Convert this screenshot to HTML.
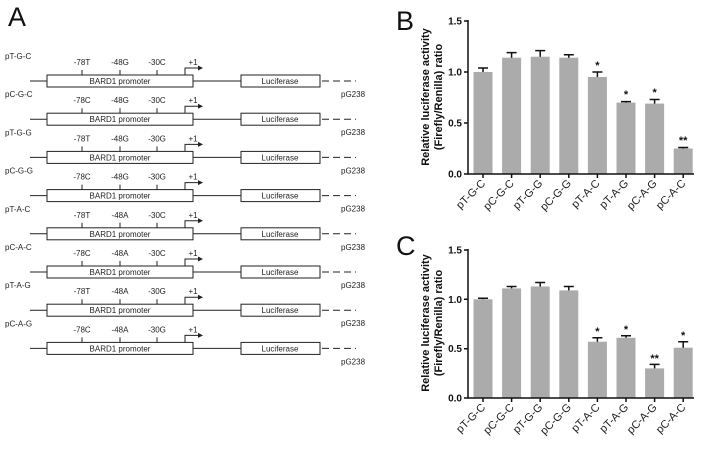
<!DOCTYPE html>
<html><head><meta charset="utf-8"><style>
body{margin:0;background:#fff}
svg{display:block;font-family:"Liberation Sans",Arial,sans-serif}
.s{font-size:8px;fill:#222}
.b{font-weight:bold;font-size:10px;fill:#111}
</style></head><body>
<svg width="702" height="450" viewBox="0 0 702 450">
<defs>
<g id="row">
<line x1="30" y1="0" x2="47" y2="0" stroke="#222" stroke-width="1"/>
<rect x="47" y="-6" width="146" height="12" fill="#fff" stroke="#222" stroke-width="1"/>
<line x1="193" y1="0" x2="241" y2="0" stroke="#222" stroke-width="1"/>
<rect x="241" y="-6" width="79" height="12" fill="#fff" stroke="#222" stroke-width="1"/>
<line x1="322" y1="0" x2="356" y2="0" stroke="#222" stroke-width="1" stroke-dasharray="7,4"/>
<line x1="82" y1="-11" x2="82" y2="-6" stroke="#222"/>
<line x1="120" y1="-11" x2="120" y2="-6" stroke="#222"/>
<line x1="157" y1="-11" x2="157" y2="-6" stroke="#222"/>
<polyline points="185,-6 185,-13 199,-13" fill="none" stroke="#222"/>
<polygon points="203,-13 198,-15.5 198,-10.5" fill="#222"/>
<text x="120" y="3" text-anchor="middle" class="s">BARD1 promoter</text>
<text x="280" y="3" text-anchor="middle" class="s">Luciferase</text>
<text x="193" y="-16" text-anchor="middle" class="s">+1</text>
<text x="341" y="16" class="s">pG238</text>
</g>
</defs>
<text x="8" y="26" font-size="27" fill="#111">A</text>

<g transform="translate(0,81)"><use href="#row"/><text x="5" y="-22" class="s">pT-G-C</text><text x="82" y="-16" text-anchor="middle" class="s">-78T</text><text x="120" y="-16" text-anchor="middle" class="s">-48G</text><text x="157" y="-16" text-anchor="middle" class="s">-30C</text></g>
<g transform="translate(0,119.2)"><use href="#row"/><text x="5" y="-22" class="s">pC-G-C</text><text x="82" y="-16" text-anchor="middle" class="s">-78C</text><text x="120" y="-16" text-anchor="middle" class="s">-48G</text><text x="157" y="-16" text-anchor="middle" class="s">-30C</text></g>
<g transform="translate(0,157.4)"><use href="#row"/><text x="5" y="-22" class="s">pT-G-G</text><text x="82" y="-16" text-anchor="middle" class="s">-78T</text><text x="120" y="-16" text-anchor="middle" class="s">-48G</text><text x="157" y="-16" text-anchor="middle" class="s">-30G</text></g>
<g transform="translate(0,195.6)"><use href="#row"/><text x="5" y="-22" class="s">pC-G-G</text><text x="82" y="-16" text-anchor="middle" class="s">-78C</text><text x="120" y="-16" text-anchor="middle" class="s">-48G</text><text x="157" y="-16" text-anchor="middle" class="s">-30G</text></g>
<g transform="translate(0,233.8)"><use href="#row"/><text x="5" y="-22" class="s">pT-A-C</text><text x="82" y="-16" text-anchor="middle" class="s">-78T</text><text x="120" y="-16" text-anchor="middle" class="s">-48A</text><text x="157" y="-16" text-anchor="middle" class="s">-30C</text></g>
<g transform="translate(0,272)"><use href="#row"/><text x="5" y="-22" class="s">pC-A-C</text><text x="82" y="-16" text-anchor="middle" class="s">-78C</text><text x="120" y="-16" text-anchor="middle" class="s">-48A</text><text x="157" y="-16" text-anchor="middle" class="s">-30C</text></g>
<g transform="translate(0,310.2)"><use href="#row"/><text x="5" y="-22" class="s">pT-A-G</text><text x="82" y="-16" text-anchor="middle" class="s">-78T</text><text x="120" y="-16" text-anchor="middle" class="s">-48A</text><text x="157" y="-16" text-anchor="middle" class="s">-30G</text></g>
<g transform="translate(0,348.4)"><use href="#row"/><text x="5" y="-22" class="s">pC-A-G</text><text x="82" y="-16" text-anchor="middle" class="s">-78C</text><text x="120" y="-16" text-anchor="middle" class="s">-48A</text><text x="157" y="-16" text-anchor="middle" class="s">-30G</text></g>

<!-- Panel B -->
<text x="396" y="30" font-size="27" fill="#111">B</text>
<g fill="#ababab">
<rect x="473.5" y="72" width="19" height="102"/>
<rect x="502.1" y="57.7" width="19" height="116.3"/>
<rect x="530.7" y="56.7" width="19" height="117.3"/>
<rect x="559.3" y="57.7" width="19" height="116.3"/>
<rect x="587.9" y="77" width="19" height="97"/>
<rect x="616.5" y="102.6" width="19" height="71.4"/>
<rect x="645.1" y="103.6" width="19" height="70.4"/>
<rect x="673.7" y="148.5" width="19" height="25.5"/>
</g>
<g stroke="#111" stroke-width="1.5" fill="none">
<path d="M483,72V68M478,68h10"/>
<path d="M511.6,57.7V52.6M506.6,52.6h10"/>
<path d="M540.2,56.7V50.6M535.2,50.6h10"/>
<path d="M568.8,57.7V54.7M563.8,54.7h10"/>
<path d="M597.4,77V72M592.4,72h10"/>
<path d="M626,102.6V101.6M621,101.6h10"/>
<path d="M654.6,103.6V99.5M649.6,99.5h10"/>
<path d="M683.2,148.5V147.5M678.2,147.5h10"/>
<path d="M468,20V174H694"/>
<path d="M464,21h4M464,72h4M464,123h4M464,174h4"/>
<path d="M483,174v4M511.6,174v4M540.2,174v4M568.8,174v4M597.4,174v4M626,174v4M654.6,174v4M683.2,174v4"/>
</g>
<g class="b" text-anchor="end">
<text x="462" y="24.5">1.5</text><text x="462" y="75.5">1.0</text><text x="462" y="126.5">0.5</text><text x="462" y="177.5">0.0</text>
</g>
<g font-size="11" font-weight="bold" fill="#111" text-anchor="middle">
<text x="597.4" y="69">*</text><text x="626" y="98">*</text><text x="654.6" y="96">*</text><text x="683.2" y="144">**</text>
</g>
<g font-size="11" fill="#222" text-anchor="end">
<text transform="translate(486,184) rotate(-45)">pT-G-C</text>
<text transform="translate(514.6,184) rotate(-45)">pC-G-C</text>
<text transform="translate(543.2,184) rotate(-45)">pT-G-G</text>
<text transform="translate(571.8,184) rotate(-45)">pC-G-G</text>
<text transform="translate(600.4,184) rotate(-45)">pT-A-C</text>
<text transform="translate(629,184) rotate(-45)">pT-A-G</text>
<text transform="translate(657.6,184) rotate(-45)">pC-A-G</text>
<text transform="translate(686.2,184) rotate(-45)">pC-A-C</text>
</g>
<g font-weight="bold" font-size="11" fill="#111" text-anchor="middle">
<text transform="translate(429,97) rotate(-90)">Relative luciferase activity</text>
<text transform="translate(442,97) rotate(-90)">(Firefly/Renilla) ratio</text>
</g>

<!-- Panel C -->
<text x="396" y="255" font-size="27" fill="#111">C</text>
<g fill="#ababab">
<rect x="473.5" y="299.3" width="19" height="98.7"/>
<rect x="502.1" y="288.4" width="19" height="109.6"/>
<rect x="530.7" y="286.5" width="19" height="111.5"/>
<rect x="559.3" y="290.4" width="19" height="107.6"/>
<rect x="587.9" y="341.7" width="19" height="56.3"/>
<rect x="616.5" y="337.8" width="19" height="60.2"/>
<rect x="645.1" y="368.4" width="19" height="29.6"/>
<rect x="673.7" y="347.7" width="19" height="50.3"/>
</g>
<g stroke="#111" stroke-width="1.5" fill="none">
<path d="M483,299.3V298.3M478,298.3h10"/>
<path d="M511.6,288.4V286.5M506.6,286.5h10"/>
<path d="M540.2,286.5V282.5M535.2,282.5h10"/>
<path d="M568.8,290.4V286.5M563.8,286.5h10"/>
<path d="M597.4,341.7V337.8M592.4,337.8h10"/>
<path d="M626,337.8V335.8M621,335.8h10"/>
<path d="M654.6,368.4V364.4M649.6,364.4h10"/>
<path d="M683.2,347.7V341.7M678.2,341.7h10"/>
<path d="M468,249V398H694"/>
<path d="M464,250h4M464,299.3h4M464,348.7h4M464,398h4"/>
<path d="M483,398v4M511.6,398v4M540.2,398v4M568.8,398v4M597.4,398v4M626,398v4M654.6,398v4M683.2,398v4"/>
</g>
<g class="b" text-anchor="end">
<text x="462" y="253.5">1.5</text><text x="462" y="302.8">1.0</text><text x="462" y="352.2">0.5</text><text x="462" y="401.5">0.0</text>
</g>
<g font-size="11" font-weight="bold" fill="#111" text-anchor="middle">
<text x="597.4" y="335">*</text><text x="626" y="333">*</text><text x="654.6" y="362">**</text><text x="683.2" y="339">*</text>
</g>
<g font-size="11" fill="#222" text-anchor="end">
<text transform="translate(486,408) rotate(-45)">pT-G-C</text>
<text transform="translate(514.6,408) rotate(-45)">pC-G-C</text>
<text transform="translate(543.2,408) rotate(-45)">pT-G-G</text>
<text transform="translate(571.8,408) rotate(-45)">pC-G-G</text>
<text transform="translate(600.4,408) rotate(-45)">pT-A-C</text>
<text transform="translate(629,408) rotate(-45)">pT-A-G</text>
<text transform="translate(657.6,408) rotate(-45)">pC-A-G</text>
<text transform="translate(686.2,408) rotate(-45)">pC-A-C</text>
</g>
<g font-weight="bold" font-size="11" fill="#111" text-anchor="middle">
<text transform="translate(429,323) rotate(-90)">Relative luciferase activity</text>
<text transform="translate(442,323) rotate(-90)">(Firefly/Renilla) ratio</text>
</g>
</svg>
</body></html>
